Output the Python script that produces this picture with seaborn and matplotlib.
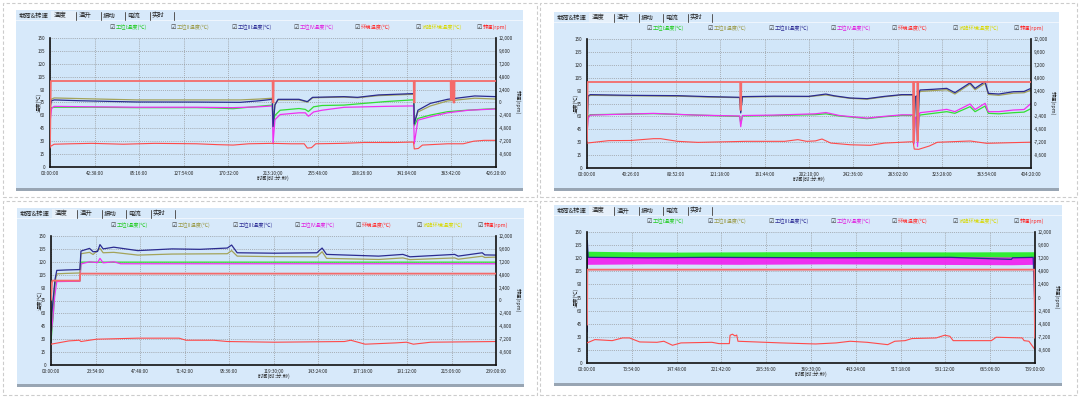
import matplotlib
matplotlib.use('Agg')
import matplotlib.pyplot as plt
import matplotlib.patches as mpatches
import pandas as pd
import seaborn as sns

W, H = 1080, 398

TABS = ['载荷&转速', '温度', '温升', '振动', '电流', '实时']
LEGEND_LABELS = ['工位I温度(℃)', '工位II温度(℃)', '工位III温度(℃)', '工位IV温度(℃)',
                 '环境温度(℃)', '试验环境温度(℃)', '转速(rpm)']
LEGEND_COLORS = ['#22cc22', '#9a9a48', '#2e2e96', '#e020e0', '#ff3030', '#d8d800', '#ff2020']
TEMP_TICKS = [0, 15, 30, 45, 60, 75, 90, 105, 120, 135, 150]
RPM_TICKS = [-9600, -7200, -4800, -2400, 0, 2400, 4800, 7200, 9600, 12000]

P1_TIME_LABELS = ['00:00:00', '42:38:00', '85:16:00', '127:54:00', '170:32:00', '213:10:00',
                  '255:48:00', '298:26:00', '341:04:00', '383:42:00', '426:20:00']
P2_TIME_LABELS = ['00:00:00', '40:26:00', '80:52:00', '121:18:00', '161:44:00', '202:10:00',
                  '242:36:00', '283:02:00', '323:28:00', '363:54:00', '404:20:00']
P3_TIME_LABELS = ['00:00:00', '23:54:00', '47:48:00', '71:42:00', '95:36:00', '119:30:00',
                  '143:24:00', '167:18:00', '191:12:00', '215:06:00', '239:00:00']
P4_TIME_LABELS = ['00:00:00', '73:54:00', '147:48:00', '221:42:00', '295:36:00', '369:30:00',
                  '443:24:00', '517:18:00', '591:12:00', '665:06:00', '739:00:00']

# ---- panel 1 (hours, value) ----
P1_TEMP1 = [(0, 45), (0.5, 65), (1.5, 69), (4, 69.5), (40, 69.5), (83, 69), (140, 69), (160, 68.5),
            (175, 67.8), (190, 69.5), (212.5, 72), (213.2, 50), (215, 60), (220, 66), (238, 68),
            (244, 67), (247, 64.5), (252, 70), (260, 71.5), (281, 72), (320, 76), (346, 78),
            (347.5, 78), (348.2, 48), (351.7, 56.5), (363.6, 60.4), (380, 64.3), (398, 66), (426.3, 68)]
P1_TEMP2 = [(0, 50), (0.5, 74), (1.5, 79), (4, 80.3), (30, 79.5), (83, 78), (140, 78), (182, 78),
            (200, 79), (212.5, 80), (213.2, 48), (215, 73), (218, 78), (238, 78), (246, 75.5),
            (251, 80.5), (281, 81.3), (294, 80.5), (314, 83), (347, 84.5), (347.7, 84.5),
            (348.2, 52), (351.7, 64), (363.6, 71), (380, 76.8), (406, 80), (426.3, 79)]
P1_TEMP3 = [(0, 48), (0.5, 72), (1.5, 77), (4, 78), (30, 77), (83, 75.6), (140, 75.5), (182, 75.2),
            (200, 77), (212.5, 78.7), (213.2, 47), (215, 72), (218, 78.7), (238, 78.7), (246, 76),
            (251, 81), (281, 81.8), (294, 81), (314, 83.8), (347, 85.3), (347.7, 85.3),
            (348.2, 50), (351.7, 66), (363.6, 74), (380, 78.7), (406, 82.6), (426.3, 81.8)]
P1_TEMP4 = [(0, 25), (0.3, 55), (1.5, 68), (4, 70.5), (40, 70), (83, 69.5), (140, 69.5), (175, 69),
            (200, 70), (212.5, 71), (213.2, 27), (215, 55), (220, 61), (238, 63), (244, 63),
            (247, 59), (252, 64), (260, 66), (281, 69.4), (320, 70.5), (346, 71), (347.5, 71),
            (348.2, 27), (351.7, 54.5), (363.6, 58.4), (380, 63), (400, 66), (426.3, 67.5)]
P1_AMB = [(0, 22), (0.5, 24), (4, 26.5), (20, 27), (40, 27.5), (70, 26.5), (100, 27.5), (140, 27),
          (160, 26), (175, 25.5), (190, 27), (212.5, 27.5), (230, 27), (243, 27), (246, 22),
          (250, 22.5), (254, 27), (280, 27.5), (300, 28.5), (330, 28.5), (347.5, 29), (348.2, 21),
          (352, 21.5), (356, 25.5), (380, 27), (395, 27), (405, 30), (415, 31), (426.3, 31)]
P1_RPM = [(0, -8000), (0.8, 4000), (212.8, 4000), (213.0, 0), (213.6, 0), (213.8, 4000),
          (347.7, 4000), (347.9, 0), (348.5, 0), (348.7, 4000), (383.0, 4000), (383.2, 500),
          (384.0, 500), (384.2, 4000), (385.5, 4000), (385.7, 0), (386.5, 0), (386.7, 4000),
          (426.3, 4000)]

# ---- panel 2 ----
P2_TEMP1 = [(0, 40), (1, 60), (3, 62), (30, 62.5), (60.6, 63.2), (100, 61.5), (139, 60), (140, 52),
            (141.5, 60.5), (170, 61), (208, 62), (217.5, 63), (230, 60.5), (255, 57.4), (270, 59.5),
            (286.6, 61.2), (297, 61), (297.8, 35), (299, 58), (300.5, 58), (301, 32), (302.5, 60),
            (303.3, 61.6), (315, 63.5), (327.6, 65.5), (335, 63.6), (348.8, 71.3), (353.4, 65.5),
            (362.5, 72), (365.5, 63.6), (375, 63), (388.3, 64.3), (398, 65), (404.3, 69)]
P2_TEMP2 = [(0, 45), (1, 83), (3, 84.5), (40, 84), (82.6, 83.5), (110, 82.5), (139, 81.8), (140, 66),
            (141.5, 82.5), (170, 83), (202, 83), (217.5, 85), (225, 83.5), (239.5, 81), (255, 80),
            (271, 82.8), (286.6, 84.8), (297, 84.8), (297.8, 50), (299, 82), (300.5, 83), (301, 40),
            (302.5, 86.5), (303.3, 89), (315, 90), (327.6, 91), (335, 86), (348.8, 97.5),
            (353.4, 91), (362.5, 98.5), (365.5, 85.5), (375, 84.5), (388.3, 87), (398, 87.5),
            (404.3, 90.5)]
P2_TEMP3 = [(0, 40), (1, 84), (3, 85.3), (40, 84.5), (82.6, 84.1), (110, 83), (139, 82.2), (140, 64),
            (141.5, 83), (170, 83.5), (202, 83.3), (217.5, 86), (225, 84), (239.5, 81.4), (255, 80.6),
            (271, 83.3), (286.6, 85.3), (297, 85.3), (297.8, 46), (299, 83), (300.5, 84), (301, 32),
            (302.5, 88), (303.3, 90.7), (315, 91.5), (327.6, 92.6), (335, 87.6), (348.8, 99),
            (353.4, 92.6), (362.5, 100.4), (365.5, 86.8), (375, 86), (388.3, 88.7), (398, 89),
            (404.3, 92.6)]
P2_TEMP4 = [(0, 38), (1, 58), (3, 61.5), (30, 62.5), (60.6, 63.5), (100, 61.5), (139, 60.5), (140, 48),
            (141.5, 61), (170, 61.5), (208, 63), (217.5, 64.5), (230, 61), (255, 58), (270, 60),
            (286.6, 61.8), (297, 61.8), (297.8, 28), (299, 59), (300.5, 59), (301, 25), (302.5, 62),
            (303.3, 64.3), (315, 66), (327.6, 68.2), (335, 65.5), (348.8, 74.4), (353.4, 68),
            (362.5, 75.2), (365.5, 65.5), (375, 65.5), (388.3, 67.4), (398, 68), (404.3, 75)]
P2_AMB = [(0, 29), (19.8, 31.8), (40, 32), (60.6, 34.1), (67, 34.1), (82.6, 31), (101, 29.8),
          (145, 31), (180, 31), (192, 33), (200, 31), (208, 31.5), (214, 33.7), (222, 29), (240, 27),
          (258, 26.4), (271, 29), (297, 30.6), (298, 22), (302, 21.7), (311.8, 25.6), (319, 29.9),
          (349, 31.4), (364, 28.7), (388, 29.5), (404.3, 30)]
P2_RPM = [(0, -7000), (0.5, 4000), (139.5, 4000), (139.7, -1200), (140.3, -1200), (140.5, 4000),
          (297, 4000), (297.2, -7100), (297.6, -7100), (297.8, 4000), (300.8, 4000), (301, -7000),
          (301.4, -7000), (301.6, 4000), (404.3, 4000)]

# ---- panel 3 ----
P3_TEMP1 = [(0, 28), (1.3, 60), (2.2, 95), (3.1, 97.5), (15.5, 97.5), (16.1, 119.6), (239, 119.6)]
P3_TEMP2 = [(0, 42), (0.4, 58), (2.2, 97), (3.1, 106), (8, 106.5), (15.5, 107), (16.1, 129.4),
            (20.7, 131), (22.6, 128.5), (26.3, 135.6), (28, 130.5), (33.7, 131), (46.6, 127.8),
            (65, 129), (94.7, 129.4), (97, 133), (100, 126.6), (120, 126), (142.8, 125.8),
            (145.6, 131.7), (148, 124), (176, 122.7), (189, 124.5), (192.8, 122.5), (216.8, 124.5),
            (218.7, 123), (231.6, 126.5), (233, 125), (239, 125.5)]
P3_TEMP3 = [(0, 40), (0.4, 60), (2.2, 100), (3.1, 110), (8, 110.5), (15.5, 111), (16.1, 132.5),
            (20.7, 135.6), (22.6, 131.7), (25, 132), (26.3, 140), (28, 135), (33.7, 137),
            (46.6, 133), (65, 135), (80, 134.5), (94.7, 136), (97, 139.5), (100, 130.5), (120, 130),
            (142.8, 130.5), (145.6, 136), (148, 128.6), (176, 126.6), (189, 128.6), (192.8, 125.8),
            (216.8, 128.6), (218.7, 126.6), (231.6, 130.5), (233, 128), (239, 127.8)]
P3_TEMP4 = [(0, 35), (1, 55), (2, 80), (3.1, 97), (15.5, 97.5), (16.1, 117.5), (20.7, 120),
            (25, 119), (26.3, 124), (28, 118.8), (33.7, 120), (37.4, 117.7), (239, 117.7)]
P3_AMB = [(0, 24.2), (9.6, 28), (15.2, 28.8), (16.1, 27.3), (24.4, 30), (46.6, 31.2), (68.8, 31.2),
          (72.5, 28.8), (87.3, 28.8), (94.7, 27.3), (120, 26.5), (157.6, 27.3), (161, 28.8),
          (168.7, 24.2), (185, 25.7), (191, 26.5), (194.6, 24.2), (204, 26.5), (239, 27.3)]
P3_RPM = [(0, 100), (0.5, 3300), (0.8, 3700), (15.5, 3700), (15.7, 5000), (239, 5000)]

# ---- panel 4 (noisy bands as low/high envelopes) ----
P4_TEMP1_BAND = [(0.5, 120, 128), (60, 120, 127.4), (150, 119.8, 127), (300, 120, 127.4),
                 (450, 119.8, 127.6), (600, 120, 127.2), (739, 120, 127.4)]
P4_TEMP4_BAND = [(0.5, 113, 121.7), (100, 113.5, 121.5), (250, 113, 121.7), (400, 113.5, 121.5),
                 (550, 113, 121.7), (700, 112.5, 121.5), (739, 113, 121.7)]
P4_TEMP4 = [(0, 36), (0.5, 120), (738, 116), (739, 63)]
P4_TEMP3 = [(0, 36), (0.5, 140), (2, 121), (100, 120.5), (200, 121), (400, 120.5), (600, 121),
            (700, 118.6), (702, 120.5), (736, 121), (739, 60)]
P4_AMB = [(0, 23), (13, 26.8), (41.5, 25.6), (58.6, 28.7), (70, 28.7), (87, 24.1), (115.4, 23.7),
          (126.8, 24.9), (141, 20.3), (155, 23), (206, 23.7), (217.7, 22.2), (234.8, 22.2),
          (236, 31.8), (240, 33), (244, 31), (247, 32), (249, 24.9), (320, 23), (377, 21.8),
          (411, 23), (434, 24.9), (462, 23.7), (496, 21), (507.7, 24.9), (524.7, 25.6), (536, 28),
          (576, 28.7), (590, 31.8), (598.6, 30.6), (604, 25.6), (667, 25.6), (675, 29.5),
          (718, 28.7), (721, 25.6), (729, 24.9), (739, 15.3)]
P4_RPM = [(0, -5000), (0.5, 5100), (738, 5100), (739, -7400)]

sns.set_theme(style='white')
plt.rcParams['font.family'] = ['Noto Sans CJK SC', 'DejaVu Sans']
plt.rcParams['axes.unicode_minus'] = False

fig = plt.figure(figsize=(W / 100, H / 100), dpi=100)
fig.patch.set_facecolor('white')


def frac_rect(x0, y0, x1, y1):
    return [x0 / W, 1 - y1 / H, (x1 - x0) / W, (y1 - y0) / H]


def fig_box(x0, y0, x1, y1, **kw):
    l, b, w, h = frac_rect(x0, y0, x1, y1)
    fig.add_artist(mpatches.Rectangle((l, b), w, h, transform=fig.transFigure, zorder=-5, **kw))


def hours(label):
    h, m, s = label.split(':')
    return int(h) + int(m) / 60 + int(s) / 3600


def draw_line(ax, pts, color, lw, z=2):
    df = pd.DataFrame(pts, columns=['t', 'v'])
    sns.lineplot(data=df, x='t', y='v', ax=ax, color=color, linewidth=lw,
                 estimator=None, sort=False, zorder=z)


def draw_panel(quad, panel, plot, time_labels, temps, amb, rpm, bands=()):
    # outer dashed frame and blue panel
    fig_box(*quad, fill=False, ec='#cccccc', lw=0.8, ls=(0, (3, 2)))
    px0, py0, px1, py1 = panel
    fig_box(px0, py0, px1, py1, fc='#d7e9fa', ec='none')
    fig_box(px0, py1 - 2, px1, py1 + 1, fc='#98a5b3', ec='none')
    fig_box(px0, py0 + 10, px1, py0 + 10.8, fc='#eef5fd', ec='none')

    # tabs
    tab_offsets = [3, 38, 63, 87, 111, 136]
    sep_offsets = [60, 84.5, 109, 134, 158]
    fig_box(px0 + 35, py0 + 1, px0 + 60, py0 + 10, fc='#e6f0fa', ec='none')
    for name, off in zip(TABS, tab_offsets):
        fig.text((px0 + off) / W, 1 - (py0 + 5.5) / H, name, fontsize=4.6,
                 color='#222222', va='center', ha='left')
    for off in sep_offsets:
        fig.add_artist(plt.Line2D([(px0 + off) / W] * 2, [1 - (py0 + 1.5) / H, 1 - (py0 + 10) / H],
                                  transform=fig.transFigure, color='#555555', lw=0.7))

    x0, y0, x1, y1 = plot
    # legend row
    leg_offsets = [59, 120, 181, 243, 304, 365, 426]
    for lab, col, off in zip(LEGEND_LABELS, LEGEND_COLORS, leg_offsets):
        fig.text((x0 + off) / W, 1 - (y0 - 10.5) / H, '☑', fontsize=4.2, color='#333333',
                 va='center', ha='left', family='DejaVu Sans')
        fig.text((x0 + off + 6.5) / W, 1 - (y0 - 10.5) / H, lab, fontsize=3.8, color=col,
                 va='center', ha='left')

    ax = fig.add_axes(frac_rect(x0, y0, x1, y1))
    ax.set_facecolor('#d1e6f9')
    xmax = hours(time_labels[-1])

    for band_pts, color in bands:
        bdf = pd.DataFrame(band_pts, columns=['t', 'lo', 'hi'])
        ax.fill_between(bdf['t'], bdf['lo'], bdf['hi'], color=color, lw=0, alpha=0.92, zorder=2)

    for pts, color in temps:
        draw_line(ax, pts, color, 0.9)
    draw_line(ax, amb, '#ff4a4a', 0.8, z=3)

    ax.set_xlim(0, xmax)
    ax.set_ylim(0, 150)
    ax.set_xticks([hours(t) for t in time_labels])
    ax.set_xticklabels(time_labels)
    ax.set_yticks(TEMP_TICKS)
    ax.set_yticklabels([str(v) for v in TEMP_TICKS])
    ax.tick_params(axis='x', length=0, pad=3, labelsize=3.3, colors='#222222')
    ax.tick_params(axis='y', length=0, pad=3.6, labelsize=3.3, colors='#222222')
    ax.grid(True, color='#8f8f8f', ls=(0, (1, 1.5)), lw=0.55)
    ax.set_axisbelow(True)
    ax.set_xlabel('')
    ax.set_ylabel('')
    for side in ['top', 'right']:
        ax.spines[side].set_visible(False)
    for side in ['left', 'bottom']:
        ax.spines[side].set_color('#111111')
        ax.spines[side].set_linewidth(1.2)

    ax2 = ax.twinx()
    draw_line(ax2, rpm, '#f46a6a', 1.3, z=4)
    ax2.set_ylim(-12000, 12000)
    ax2.set_xlim(0, xmax)
    ax2.set_yticks(RPM_TICKS)
    ax2.set_yticklabels([f'{v:,}' for v in RPM_TICKS])
    ax2.tick_params(axis='y', length=0, pad=2.2, labelsize=3.3, colors='#222222')
    ax2.grid(False)
    ax2.set_ylabel('')
    for side in ['top', 'left', 'bottom']:
        ax2.spines[side].set_visible(False)
    ax2.spines['right'].set_color('#111111')
    ax2.spines['right'].set_linewidth(1.2)

    midy = 1 - (y0 + y1) / 2 / H
    fig.text((x0 - 11.5) / W, midy, '温度(℃)', fontsize=3.8, rotation=90,
             va='center', ha='center', color='#222222')
    fig.text((x1 + 22) / W, midy, '转速(rpm)', fontsize=3.8, rotation=-90,
             va='center', ha='center', color='#222222')
    fig.text((x0 + x1) / 2 / W, 1 - (y1 + 11) / H, '时间(时:分:秒)', fontsize=3.8,
             va='center', ha='center', color='#222222')


C1, C2, C3, C4 = '#33dd33', '#a3a35a', '#2b2b90', '#f030f0'

draw_panel((3, 3, 537, 197), (16, 10, 523, 190), (50, 38, 496, 167), P1_TIME_LABELS,
           [(P1_TEMP2, C2), (P1_TEMP1, C1), (P1_TEMP4, C4), (P1_TEMP3, C3)], P1_AMB, P1_RPM)
draw_panel((540, 3, 1077, 197), (554, 12, 1059, 190), (587, 39, 1031, 168), P2_TIME_LABELS,
           [(P2_TEMP1, C1), (P2_TEMP4, C4), (P2_TEMP2, C2), (P2_TEMP3, C3)], P2_AMB, P2_RPM)
draw_panel((3, 201, 537, 395), (17, 208, 524, 386), (51, 236, 496, 365), P3_TIME_LABELS,
           [(P3_TEMP1, C1), (P3_TEMP4, C4), (P3_TEMP2, C2), (P3_TEMP3, C3)], P3_AMB, P3_RPM)
draw_panel((540, 201, 1077, 395), (554, 205, 1062, 385), (587, 232, 1035, 363), P4_TIME_LABELS,
           [(P4_TEMP4, C4), (P4_TEMP3, C3)], P4_AMB, P4_RPM,
           bands=[(P4_TEMP1_BAND, '#22ee22'), (P4_TEMP4_BAND, '#f020f0')])

fig.savefig('out.png', dpi=100)
